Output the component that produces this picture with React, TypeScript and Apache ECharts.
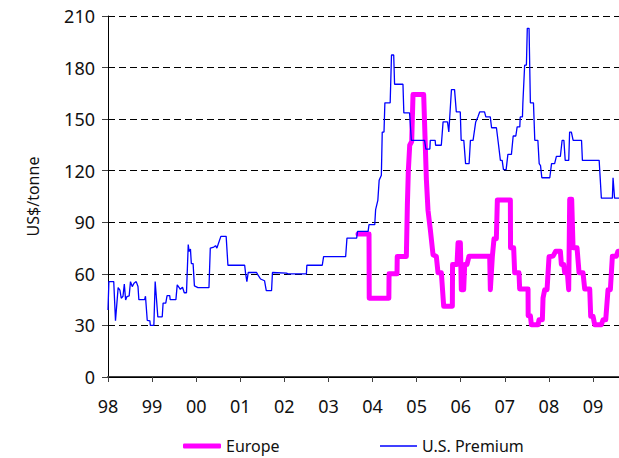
import React, { useEffect, useRef } from "react";
import * as echarts from "echarts";

const yearTicks = { min: 1998, max: 2009.59, interval: 1 };
const valueTicks = { min: 0, max: 210, interval: 30 };
const seriesNames = ["Europe", "U.S. Premium"];

const europePoints: [number, number][] = [
  [2003.67, 83.2], [2003.92, 83.2], [2003.925, 45.8], [2004.37, 45.8], [2004.375, 60],
  [2004.555, 60], [2004.56, 70.1], [2004.767, 70.1], [2004.79, 100], [2004.812, 120],
  [2004.843, 134.8], [2004.888, 137], [2004.918, 164.3], [2005.16, 164.3], [2005.19, 140],
  [2005.221, 115], [2005.258, 97], [2005.311, 85.7], [2005.372, 71.1], [2005.447, 70.1],
  [2005.485, 60.6], [2005.561, 60.6], [2005.614, 41.1], [2005.81, 41.1], [2005.815, 65.5],
  [2005.916, 65.5], [2005.939, 78.1], [2005.992, 78.1], [2006.014, 50.8], [2006.067, 50.8],
  [2006.09, 65.5], [2006.143, 65.5], [2006.188, 70.3], [2006.657, 70.3], [2006.672, 50.8],
  [2006.718, 70.3], [2006.755, 80.4], [2006.808, 80.4], [2006.831, 103], [2007.126, 103],
  [2007.13, 75.2], [2007.201, 75.2], [2007.224, 60.6], [2007.322, 60.6], [2007.337, 51.2],
  [2007.527, 51.2], [2007.53, 35.6], [2007.58, 35.6], [2007.603, 30.4], [2007.754, 30.4],
  [2007.776, 33.3], [2007.852, 33.3], [2007.867, 46], [2007.905, 50.8], [2007.958, 50.8],
  [2008.003, 69.9], [2008.094, 70.3], [2008.155, 73.2], [2008.26, 73.2], [2008.283, 65.5],
  [2008.336, 65.5], [2008.359, 60.6], [2008.419, 60.6], [2008.449, 50.8], [2008.472, 103.4],
  [2008.517, 103.4], [2008.548, 75.2], [2008.638, 75.2], [2008.684, 60.6], [2008.774, 60.6],
  [2008.812, 51.2], [2008.926, 51.2], [2008.948, 35.3], [2009.001, 35.3], [2009.039, 30.4],
  [2009.19, 30.4], [2009.228, 33.3], [2009.289, 33.3], [2009.341, 50.8], [2009.394, 50.8],
  [2009.44, 70.3], [2009.53, 70.3], [2009.568, 73.2], [2009.59, 73.2],
];

const usPremiumPoints: [number, number][] = [
  [1998.0, 39], [1998.02, 55.5], [1998.13, 55.5], [1998.17, 32.7], [1998.23, 52],
  [1998.27, 50.6], [1998.3, 45.8], [1998.34, 47], [1998.37, 54], [1998.4, 44.8],
  [1998.43, 46.8], [1998.48, 47.2], [1998.51, 55.5], [1998.55, 52.6], [1998.59, 54.5],
  [1998.64, 55.5], [1998.68, 52.6], [1998.7, 45], [1998.83, 45], [1998.85, 47],
  [1998.89, 33], [1998.95, 32.7], [1998.96, 30], [1999.04, 30], [1999.07, 55.5],
  [1999.13, 35], [1999.23, 35], [1999.25, 43], [1999.31, 43], [1999.34, 47.3],
  [1999.4, 47.3], [1999.41, 45], [1999.54, 45], [1999.57, 53.6], [1999.61, 52.2],
  [1999.64, 51], [1999.69, 52.2], [1999.73, 49], [1999.78, 49], [1999.82, 77],
  [1999.84, 73], [1999.87, 74.4], [1999.89, 66], [1999.93, 66], [1999.96, 53],
  [2000.04, 52], [2000.29, 52], [2000.32, 75], [2000.4, 75.6], [2000.44, 76.4],
  [2000.47, 75], [2000.56, 81.8], [2000.68, 81.8], [2000.72, 65], [2001.1, 65],
  [2001.12, 60.4], [2001.15, 55.5], [2001.18, 60.8], [2001.37, 60.8], [2001.4, 59.4],
  [2001.46, 57], [2001.55, 56], [2001.59, 50.3], [2001.71, 50.3], [2001.73, 60.8],
  [2002.05, 60.4], [2002.08, 60], [2002.5, 60], [2002.51, 65], [2002.86, 65],
  [2002.89, 70], [2003.39, 70], [2003.42, 80.8], [2003.64, 80.8], [2003.66, 84.7],
  [2003.9, 84.7], [2003.92, 88.6], [2004.05, 88.6], [2004.07, 97.4], [2004.12, 102.7],
  [2004.15, 114.4], [2004.2, 117.3], [2004.22, 142.5], [2004.26, 142.5], [2004.28, 159.5],
  [2004.4, 159.5], [2004.43, 187.3], [2004.48, 187.3], [2004.5, 170.3], [2004.69, 170.3],
  [2004.71, 153.6], [2004.84, 153.6], [2004.88, 137.7], [2005.18, 137.7], [2005.21, 132.6],
  [2005.3, 132.6], [2005.31, 137.7], [2005.42, 137.7], [2005.43, 134.8], [2005.56, 134.8],
  [2005.6, 148.4], [2005.7, 148.4], [2005.73, 142.5], [2005.79, 167.2], [2005.86, 167.2],
  [2005.9, 154.2], [2005.99, 154.2], [2006.01, 137.7], [2006.07, 137.7], [2006.11, 124.1],
  [2006.19, 124.1], [2006.22, 137.7], [2006.28, 137.7], [2006.34, 148.4], [2006.39, 151.3],
  [2006.43, 154.2], [2006.54, 154.2], [2006.57, 151.3], [2006.67, 151.3], [2006.7, 145],
  [2006.81, 145], [2006.85, 136.7], [2006.9, 126], [2006.94, 126], [2006.97, 120.6],
  [2007.03, 120.6], [2007.07, 129.5], [2007.15, 129.5], [2007.19, 140.2], [2007.25, 140.2],
  [2007.28, 145.5], [2007.34, 145.5], [2007.35, 151.3], [2007.4, 151.3], [2007.41, 159.5],
  [2007.45, 181.4], [2007.49, 181.4], [2007.51, 202.8], [2007.55, 202.8], [2007.58, 159.5],
  [2007.65, 159.5], [2007.68, 137.7], [2007.75, 137.7], [2007.78, 124.1], [2007.81, 123],
  [2007.84, 115.9], [2008.02, 115.9], [2008.06, 124.1], [2008.13, 124.1], [2008.17, 128.3],
  [2008.26, 128.3], [2008.3, 137.7], [2008.34, 137.7], [2008.37, 126], [2008.45, 126],
  [2008.47, 142.5], [2008.51, 142.5], [2008.55, 137.7], [2008.74, 137.7], [2008.76, 126],
  [2009.14, 126], [2009.19, 104], [2009.44, 104], [2009.455, 115.9], [2009.49, 104],
  [2009.59, 104],
];

const FONT = "Noto Sans";

export default function App() {
  const ref = useRef<HTMLDivElement>(null);
  useEffect(() => {
    if (!ref.current) return;
    const chart = echarts.init(ref.current, undefined, { renderer: "svg" });
    chart.setOption({
      animation: false,
      backgroundColor: "#ffffff",
      grid: { left: 108, top: 16, width: 511, height: 361, containLabel: false },
      xAxis: [
        {
          type: "value",
          min: yearTicks.min,
          max: yearTicks.max,
          interval: yearTicks.interval,
          axisLine: { show: true, onZero: false, lineStyle: { color: "#404040", width: 2 } },
          axisTick: { show: true, length: 5, lineStyle: { color: "#404040", width: 1 } },
          axisLabel: {
            margin: 20,
            fontSize: 18,
            fontFamily: FONT,
            color: "#111",
            formatter: (v: number) => String(Math.round(v) % 100).padStart(2, "0"),
            showMaxLabel: false,
          },
          splitLine: { show: false },
        },
        {
          type: "value",
          position: "top",
          min: yearTicks.min,
          max: yearTicks.max,
          interval: yearTicks.interval,
          axisLine: { show: true, lineStyle: { color: "#000", width: 1 } },
          axisTick: { show: false },
          axisLabel: { show: false },
          splitLine: { show: false },
        },
      ],
      yAxis: {
        type: "value",
        min: valueTicks.min,
        max: valueTicks.max,
        interval: valueTicks.interval,
        name: "US$/tonne",
        nameLocation: "middle",
        nameRotate: 90,
        nameGap: 67,
        nameTextStyle: { fontSize: 16, fontFamily: FONT, color: "#111" },
        axisLine: { show: true, lineStyle: { color: "#000", width: 1 } },
        axisTick: { show: true, length: 6, lineStyle: { color: "#404040" } },
        axisLabel: { margin: 13, fontSize: 18, fontFamily: FONT, color: "#111" },
        splitLine: { show: true, lineStyle: { color: "#000", width: 1, type: [7, 4] } },
      },
      legend: [
        {
          data: [seriesNames[0]],
          left: 178,
          top: 433,
          icon: "roundRect",
          itemWidth: 38,
          itemHeight: 5,
          itemGap: 0,
          textStyle: { fontSize: 16, fontFamily: FONT, color: "#111" },
        },
        {
          data: [seriesNames[1]],
          left: 375,
          top: 433,
          icon: "rect",
          itemWidth: 37,
          itemHeight: 1.5,
          itemGap: 0,
          textStyle: { fontSize: 16, fontFamily: FONT, color: "#111" },
        },
      ],
      series: [
        {
          name: seriesNames[0],
          type: "line",
          data: europePoints,
          showSymbol: false,
          symbol: "none",
          color: "#ff00ff",
          lineStyle: { color: "#ff00ff", width: 5, join: "round", cap: "round" },
          z: 2,
        },
        {
          name: seriesNames[1],
          type: "line",
          data: usPremiumPoints,
          showSymbol: false,
          symbol: "none",
          color: "#0000ff",
          lineStyle: { color: "#0000ff", width: 1.3 },
          z: 3,
        },
      ],
    });
    return () => chart.dispose();
  }, []);
  return (
    <div
      ref={ref}
      style={{ position: "absolute", left: 0, top: 0, width: 619, height: 458 }}
    />
  );
}
